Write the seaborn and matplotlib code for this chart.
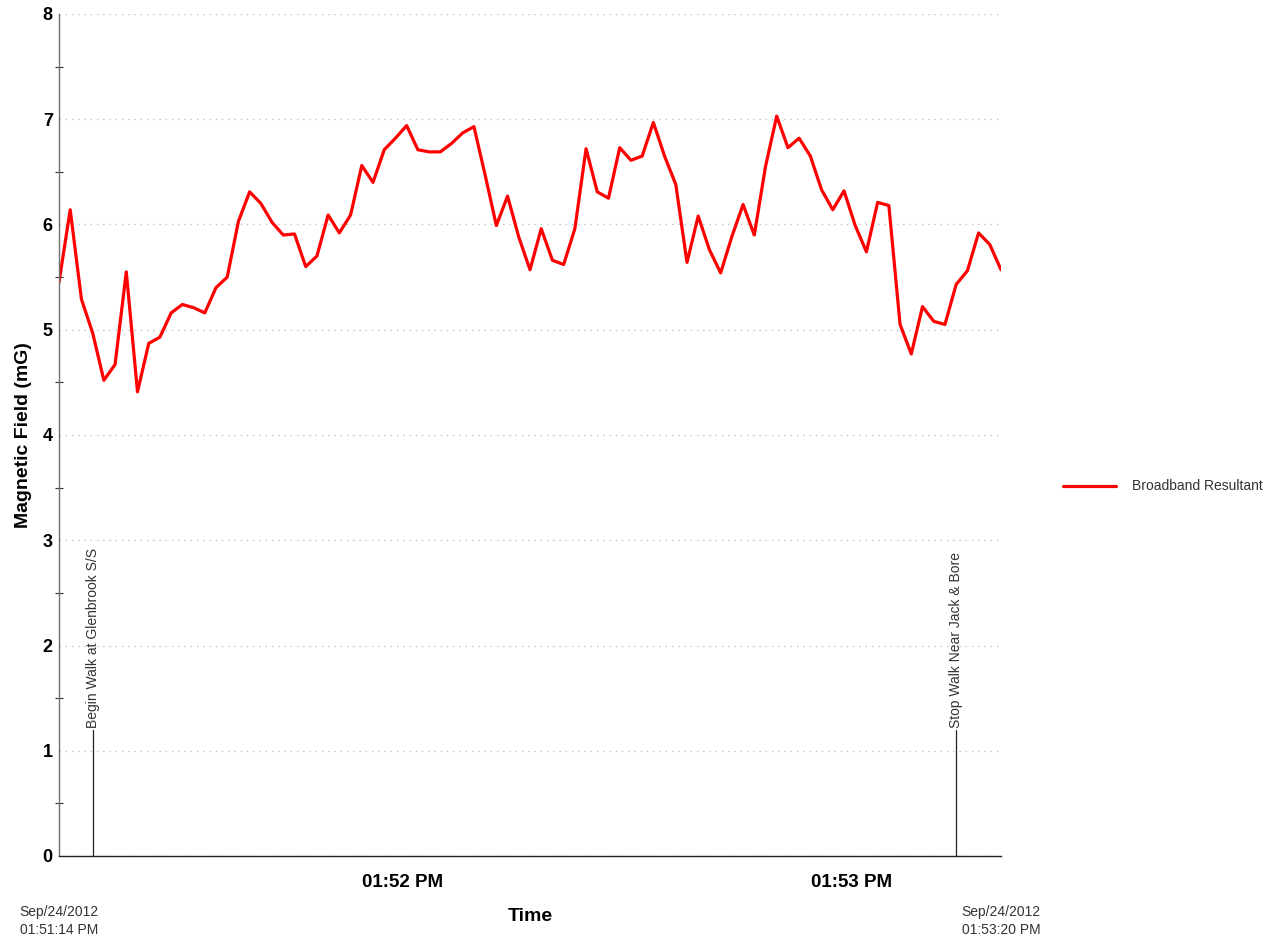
import matplotlib
matplotlib.use("Agg")
import matplotlib.pyplot as plt
import matplotlib.dates as mdates
from matplotlib.ticker import MultipleLocator
import numpy as np
import pandas as pd
import seaborn as sns

# Survey record: broadband resultant field sampled every 1.5 s
start_time = "2012-09-24 13:51:14"
end_time = "2012-09-24 13:53:20"
sample_step_s = 1.5
field_mg = [
    5.45, 6.14, 5.29, 4.97, 4.52, 4.67, 5.55, 4.41, 4.87, 4.93,
    5.16, 5.24, 5.21, 5.16, 5.40, 5.50, 6.03, 6.31, 6.20, 6.02,
    5.90, 5.91, 5.60, 5.70, 6.09, 5.92, 6.09, 6.56, 6.40, 6.71,
    6.82, 6.94, 6.71, 6.69, 6.69, 6.77, 6.87, 6.93, 6.47, 5.99,
    6.27, 5.88, 5.57, 5.96, 5.66, 5.62, 5.96, 6.72, 6.31, 6.25,
    6.73, 6.61, 6.65, 6.97, 6.65, 6.38, 5.64, 6.08, 5.76, 5.54,
    5.885, 6.19, 5.90, 6.55, 7.03, 6.73, 6.82, 6.65, 6.33, 6.14,
    6.32, 5.99, 5.74, 6.21, 6.18, 5.05, 4.77, 5.22, 5.08, 5.05,
    5.43, 5.56, 5.92, 5.81, 5.57,
]
series_name = "Broadband Resultant"

# Event markers along the walk
event_times = ["2012-09-24 13:51:18.5", "2012-09-24 13:53:14"]
event_labels = ["Begin Walk at Glenbrook S/S", "Stop Walk Near Jack & Bore"]
event_marker_height = 1.2

t0 = pd.Timestamp(start_time)
t1 = pd.Timestamp(end_time)
times = t0 + pd.to_timedelta(np.arange(len(field_mg)) * sample_step_s, unit="s")
df = pd.DataFrame({"Time": times, "Field": field_mg, "Series": series_name})

sns.set_theme(style="white")
plt.rcParams["font.family"] = ["Liberation Sans", "DejaVu Sans"]

fig = plt.figure(figsize=(12.73, 9.41), dpi=100)
ax = fig.add_axes([59 / 1273, 1 - 856 / 941, (1001 - 59) / 1273, (856 - 14) / 941])

sns.lineplot(data=df, x="Time", y="Field", hue="Series", palette=["#ff0000"],
             linewidth=2.3, ax=ax, legend=True)

ax.set_xlim(t0, t1)
ax.set_ylim(0, 8)

# Horizontal dotted grid
ax.yaxis.set_major_locator(MultipleLocator(1))
ax.yaxis.set_minor_locator(MultipleLocator(0.5))
ax.grid(axis="y", which="major", linestyle=(0, (1, 4)), color="#b8b8b8", linewidth=0.9)
ax.grid(axis="x", visible=False)
ax.set_axisbelow(True)

ax.xaxis.set_major_locator(mdates.MinuteLocator())
ax.xaxis.set_major_formatter(mdates.DateFormatter("%I:%M %p"))

for side in ("top", "right"):
    ax.spines[side].set_visible(False)
ax.spines["left"].set_color("#707070")
ax.spines["bottom"].set_color("#222222")
ax.spines["left"].set_linewidth(1.0)
ax.spines["bottom"].set_linewidth(1.0)

ax.tick_params(axis="y", which="major", direction="inout", length=6, width=0.8,
               color="#333333", labelsize=13, pad=1.5, labelcolor="#000000")
ax.tick_params(axis="y", which="minor", direction="inout", length=6, width=0.8,
               color="#333333", left=True)
ax.tick_params(axis="x", which="major", direction="inout", length=6, width=0.8,
               color="#333333", labelsize=13.5, pad=10, labelcolor="#000000")
for lbl in ax.get_yticklabels() + ax.get_xticklabels():
    lbl.set_fontweight("bold")

ax.set_xlabel("Time", fontsize=14, fontweight="bold", labelpad=12, color="#000000")
ax.set_ylabel("Magnetic Field (mG)", fontsize=14, fontweight="bold", labelpad=8,
              color="#000000")

# Event markers with rotated captions
for et, lab in zip(event_times, event_labels):
    t = pd.Timestamp(et)
    ax.plot([t, t], [0, event_marker_height], color="#222222", linewidth=0.9)
    ax.text(t, event_marker_height + 0.02, lab, rotation=90, ha="center", va="bottom",
            fontsize=10, color="#333333")

# Start / end stamps beneath the axis ends
for t in (t0, t1):
    stamp = t.strftime("%b/%d/%Y") + "\n" + t.strftime("%I:%M:%S %p")
    ax.annotate(stamp, xy=(mdates.date2num(t), 0), xycoords=("data", "axes fraction"),
                xytext=(0, -35.5), textcoords="offset points", ha="center", va="top",
                fontsize=10, color="#333333", linespacing=1.35)

leg = ax.legend(loc="center left", bbox_to_anchor=(1.0, 0.439), frameon=False,
                fontsize=10, handlelength=3.8, handletextpad=1.2, borderaxespad=4.05)
leg.set_title(None)
for txt in leg.get_texts():
    txt.set_color("#333333")

fig.savefig("out.png", dpi=100)
